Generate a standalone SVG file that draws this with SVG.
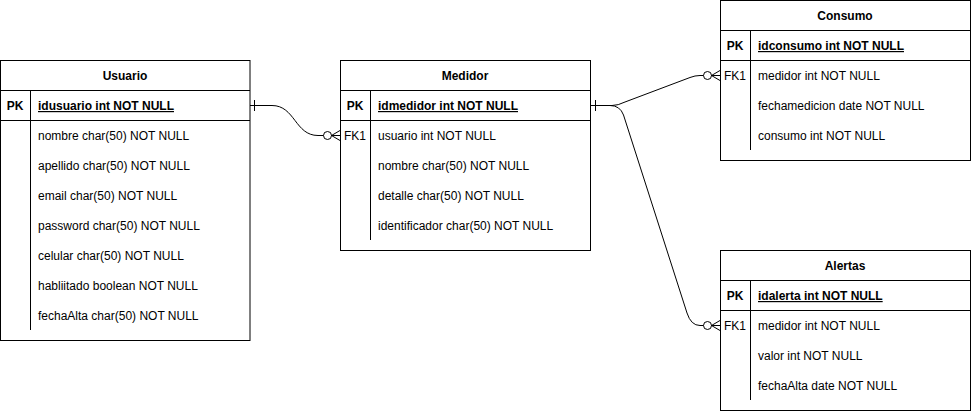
<svg xmlns="http://www.w3.org/2000/svg" width="971" height="411" viewBox="0 0 971 411">
<style>
.box{fill:#fff;stroke:#000;stroke-width:1}
.ln{fill:none;stroke:#000;stroke-width:1}
text{font-family:"Liberation Sans",Arial,Helvetica,sans-serif;font-size:12px;fill:#000}
.t{font-weight:bold;text-anchor:middle}
.k{text-anchor:middle}
.pk{font-weight:bold;text-anchor:middle}
.pf{font-weight:bold;text-decoration:underline}
</style>
<rect width="971" height="411" fill="#fff"/>
<g id="Usuario">
<rect class="box" x="0.5" y="60.5" width="249.5" height="280"/>
<line class="ln" x1="0.5" y1="90.5" x2="250" y2="90.5"/>
<line class="ln" x1="0.5" y1="120.5" x2="250" y2="120.5"/>
<line class="ln" x1="30.5" y1="90.5" x2="30.5" y2="330"/>
<text class="t" x="125" y="80">Usuario</text>
<text class="pk" x="15" y="110">PK</text>
<text class="pf" x="38" y="110">idusuario int NOT NULL</text>
<text x="38" y="140">nombre char(50) NOT NULL</text>
<text x="38" y="170">apellido char(50) NOT NULL</text>
<text x="38" y="200">email char(50) NOT NULL</text>
<text x="38" y="230">password char(50) NOT NULL</text>
<text x="38" y="260">celular char(50) NOT NULL</text>
<text x="38" y="290">habliitado boolean NOT NULL</text>
<text x="38" y="320">fechaAlta char(50) NOT NULL</text>
</g>
<g id="Medidor">
<rect class="box" x="340.5" y="60.5" width="250" height="190"/>
<line class="ln" x1="340.5" y1="90.5" x2="590.5" y2="90.5"/>
<line class="ln" x1="340.5" y1="120.5" x2="590.5" y2="120.5"/>
<line class="ln" x1="370.5" y1="90.5" x2="370.5" y2="240"/>
<text class="t" x="465" y="80">Medidor</text>
<text class="pk" x="355" y="110">PK</text>
<text class="pf" x="378" y="110">idmedidor int NOT NULL</text>
<text class="k" x="355" y="140">FK1</text>
<text x="378" y="140">usuario int NOT NULL</text>
<text x="378" y="170">nombre char(50) NOT NULL</text>
<text x="378" y="200">detalle char(50) NOT NULL</text>
<text x="378" y="230">identificador char(50) NOT NULL</text>
</g>
<g id="Consumo">
<rect class="box" x="720.5" y="0.5" width="250" height="160"/>
<line class="ln" x1="720.5" y1="30.5" x2="970.5" y2="30.5"/>
<line class="ln" x1="720.5" y1="60.5" x2="970.5" y2="60.5"/>
<line class="ln" x1="750.5" y1="30.5" x2="750.5" y2="150"/>
<text class="t" x="845" y="20">Consumo</text>
<text class="pk" x="735" y="50">PK</text>
<text class="pf" x="758" y="50">idconsumo int NOT NULL</text>
<text class="k" x="735" y="80">FK1</text>
<text x="758" y="80">medidor int NOT NULL</text>
<text x="758" y="110">fechamedicion date NOT NULL</text>
<text x="758" y="140">consumo int NOT NULL</text>
</g>
<g id="Alertas">
<rect class="box" x="720.5" y="250.5" width="250" height="160"/>
<line class="ln" x1="720.5" y1="280.5" x2="970.5" y2="280.5"/>
<line class="ln" x1="720.5" y1="310.5" x2="970.5" y2="310.5"/>
<line class="ln" x1="750.5" y1="280.5" x2="750.5" y2="400"/>
<text class="t" x="845" y="270">Alertas</text>
<text class="pk" x="735" y="300">PK</text>
<text class="pf" x="758" y="300">idalerta int NOT NULL</text>
<text class="k" x="735" y="330">FK1</text>
<text x="758" y="330">medidor int NOT NULL</text>
<text x="758" y="360">valor int NOT NULL</text>
<text x="758" y="390">fechaAlta date NOT NULL</text>
</g>
<g id="connectors">
<path class="ln" d="M250 105.5 L272 105.5 C295 105.5 295 135.5 318 135.5 L323.5 135.5"/>
<line class="ln" x1="254.5" y1="100" x2="254.5" y2="111"/>
<circle class="ln" cx="327.5" cy="135.5" r="4"/>
<path class="ln" d="M340 130.5 L331.5 135.5 L340 140.5 M331.5 135.5 L340 135.5"/>

<path class="ln" d="M590.5 105.5 L612 105.5 Q618 105.5 625 102 L690 77.5 Q695 75.5 700 75.5 L703.5 75.5"/>
<line class="ln" x1="595.5" y1="100" x2="595.5" y2="111"/>
<circle class="ln" cx="707.5" cy="75.5" r="4"/>
<path class="ln" d="M720 70.5 L711.5 75.5 L720 80.5 M711.5 75.5 L720 75.5"/>

<path class="ln" d="M610 105.5 Q620 105.5 623.5 115 L687 313 Q691 325.5 700 325.5 L703.5 325.5"/>
<circle class="ln" cx="707.5" cy="325.5" r="4"/>
<path class="ln" d="M720 320.5 L711.5 325.5 L720 330.5 M711.5 325.5 L720 325.5"/>
</g>
</svg>
